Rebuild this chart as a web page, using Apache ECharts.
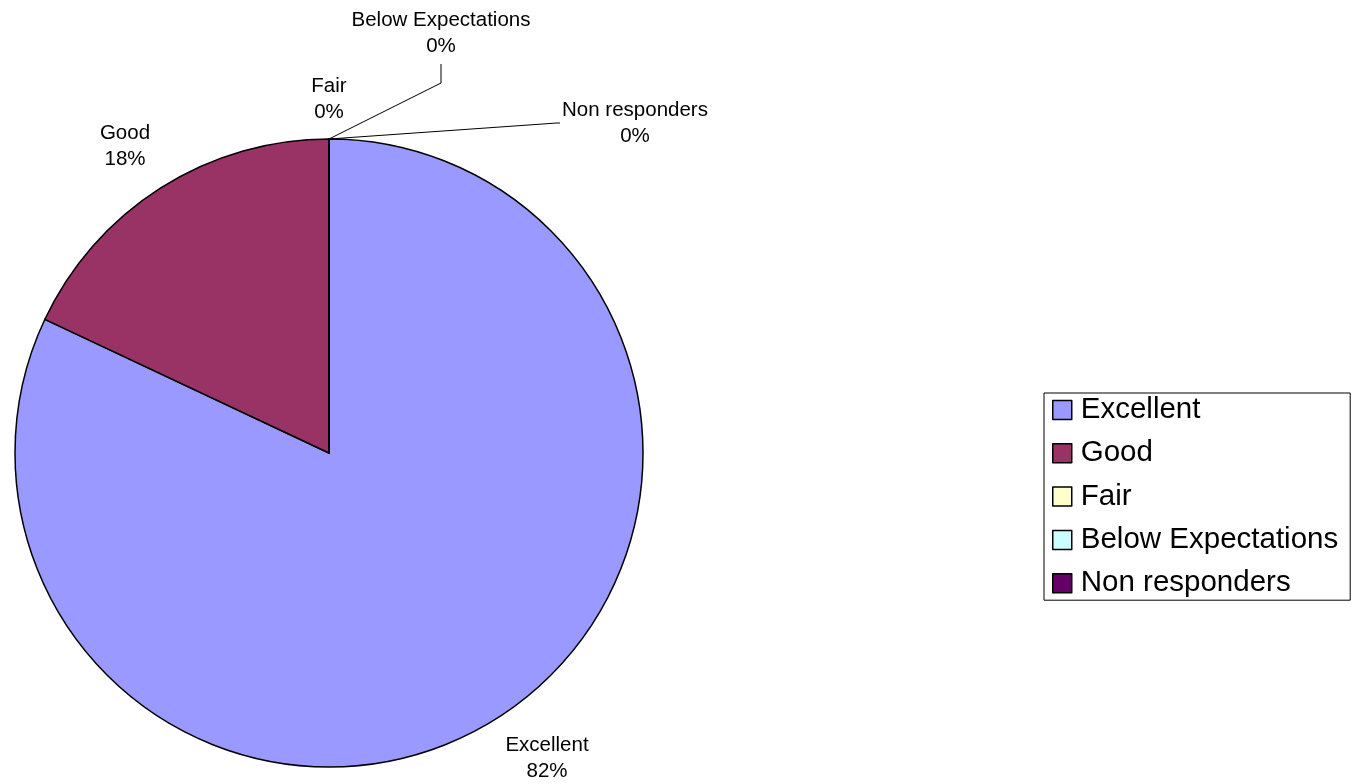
<!DOCTYPE html>
<html>
<head>
<meta charset="utf-8">
<script src="https://cdn.jsdelivr.net/npm/echarts@6/dist/echarts.min.js"></script>
<style>html,body{margin:0;padding:0;background:#fff;}#c{width:1361px;height:784px;}</style>
</head>
<body>
<div id="c"></div>
<script>
const categories = ['Excellent', 'Good', 'Fair', 'Below Expectations', 'Non responders'];
const values = [82, 18, 0, 0, 0];
const colors = ['#9999FF', '#993366', '#FFFFCC', '#CCFFFF', '#660066'];

// label layout (positions of the data labels, not the slices)
const pieCenter = [329, 453];
const pieRadius = 314;
const labelPos = [
  { x: 547, y: 758 },
  { x: 125, y: 146 },
  { x: 329, y: 99 },
  { x: 441, y: 33 },
  { x: 635, y: 123 }
];
const leader = [
  null,
  null,
  null,
  [[441, 83], [441, 64]],
  [[557, 123], [560, 123]]
];

const chart = echarts.init(document.getElementById('c'));
const pieTop = [pieCenter[0], pieCenter[1] - pieRadius];
chart.setOption({
  animation: false,
  backgroundColor: '#fff',
  legend: {
    orient: 'vertical',
    left: 1044,
    top: 393,
    padding: [2, 12, 2, 8],
    itemGap: 13.3,
    itemWidth: 19,
    itemHeight: 19,
    borderColor: '#000',
    borderWidth: 1,
    icon: 'rect',
    itemStyle: { borderColor: '#000', borderWidth: 1.5 },
    textStyle: { fontFamily: 'Liberation Sans, Arial', fontSize: 29.5, color: '#000', padding: [0, 0, 0, 4], lineHeight: 30 },
    data: categories
  },
  series: [{
    type: 'pie',
    center: pieCenter,
    radius: pieRadius,
    startAngle: 90,
    clockwise: true,
    avoidLabelOverlap: false,
    itemStyle: { borderColor: '#000', borderWidth: 1.5 },
    emphasis: { disabled: true },
    label: {
      show: true,
      position: 'outside',
      fontFamily: 'Liberation Sans, Arial',
      fontSize: 20.5,
      lineHeight: 26,
      color: '#000',
      align: 'center',
      formatter: p => p.name + '\n' + Math.round(p.percent) + '%'
    },
    labelLine: { show: true, lineStyle: { color: '#000', width: 1 }, length: 10, length2: 10 },
    labelLayout: function (params) {
      const i = params.dataIndex;
      const res = { x: labelPos[i].x, y: labelPos[i].y, align: 'center', verticalAlign: 'middle' };
      if (leader[i]) {
        res.labelLinePoints = [pieTop, leader[i][0], leader[i][1]];
      } else {
        res.labelLinePoints = [pieTop, pieTop, pieTop];
      }
      return res;
    },
    data: categories.map((c, i) => ({
      name: c,
      value: values[i],
      itemStyle: { color: colors[i] },
      labelLine: { show: !!leader[i] }
    }))
  }]
});
</script>
</body>
</html>
